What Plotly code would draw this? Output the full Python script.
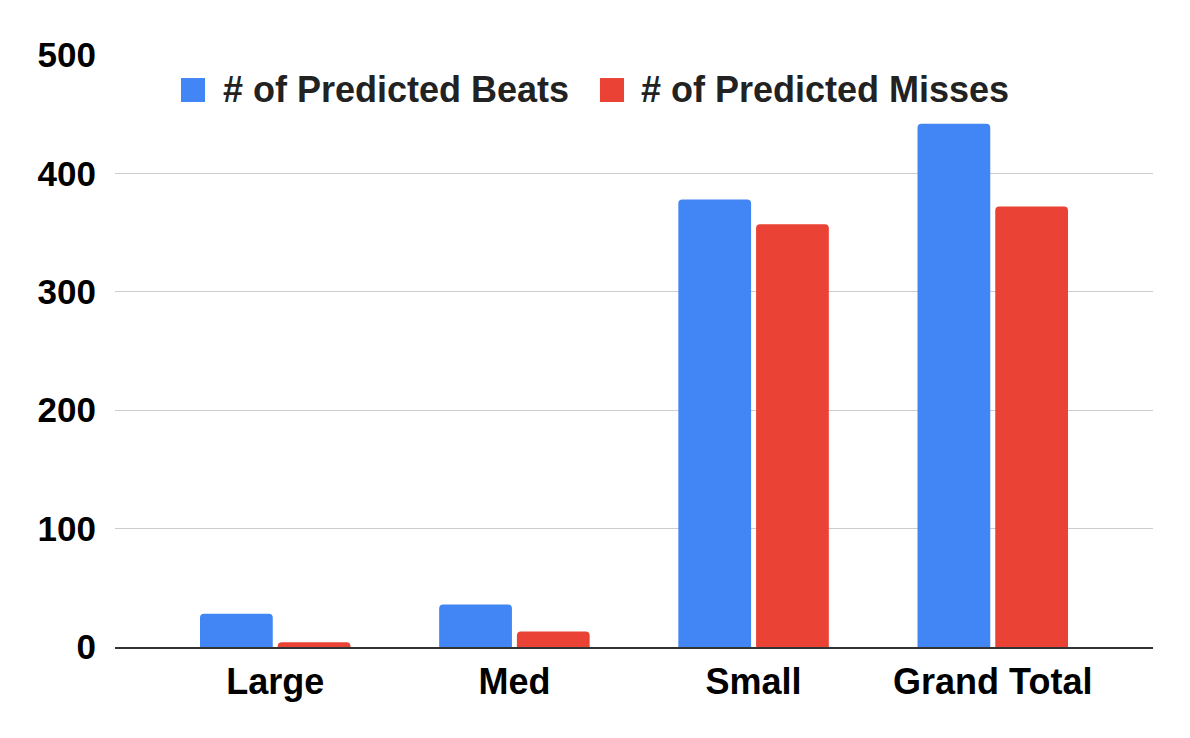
import plotly.graph_objects as go

categories = ["Large", "Med", "Small", "Grand Total"]
beats = [28, 36, 378, 442]
misses = [4, 13, 357, 372]
y_ticks = [0, 100, 200, 300, 400, 500]
series_names = ["# of Predicted Beats", "# of Predicted Misses"]
series_colors = ["#4285F4", "#EA4335"]

FONT = "Liberation Sans, Arial, sans-serif"
FS = 36

fig = go.Figure()
for name, vals, col in zip(series_names, [beats, misses], series_colors):
    fig.add_trace(go.Bar(x=categories, y=vals, name=name, showlegend=False,
                         marker=dict(color=col, cornerradius=4, line=dict(width=0))))

# Legend drawn as swatches + text (Google-Sheets-style large squares)
legend_items = [
    (0.0636, 0.0867, 0.1021),
    (0.4672, 0.4904, 0.5048),
]
for (x0, x1, xt), name, col in zip(legend_items, series_names, series_colors):
    fig.add_shape(type="rect", xref="paper", yref="paper", x0=x0, x1=x1,
                  y0=0.9206, y1=0.9611, fillcolor=col, line=dict(width=0))
    fig.add_annotation(xref="paper", yref="paper", x=xt, y=0.9409, xanchor="left",
                       yanchor="middle", text=name, showarrow=False,
                       font=dict(family=FONT, size=FS, color="#222222", weight="bold"))

fig.update_layout(
    width=1174, height=722,
    margin=dict(l=107, r=29, t=47, b=83),
    paper_bgcolor="white", plot_bgcolor="white",
    barmode="group", bargap=0.35, bargroupgap=0.064,
    font=dict(family=FONT, size=FS, color="#000000", weight="bold"),
    showlegend=False,
)
fig.update_xaxes(range=[-0.67, 3.67], showline=True, linecolor="#333333", linewidth=2,
                 ticks="", ticklabelstandoff=2,
                 tickfont=dict(family=FONT, size=FS, color="#000000", weight="bold"))
fig.update_yaxes(range=[0, 500], tickvals=y_ticks, showgrid=True, gridcolor="#CCCCCC",
                 gridwidth=1, zeroline=False, ticks="", ticklabelstandoff=18,
                 tickfont=dict(family=FONT, size=35, color="#000000", weight="bold"))

fig.write_html("out.html")
